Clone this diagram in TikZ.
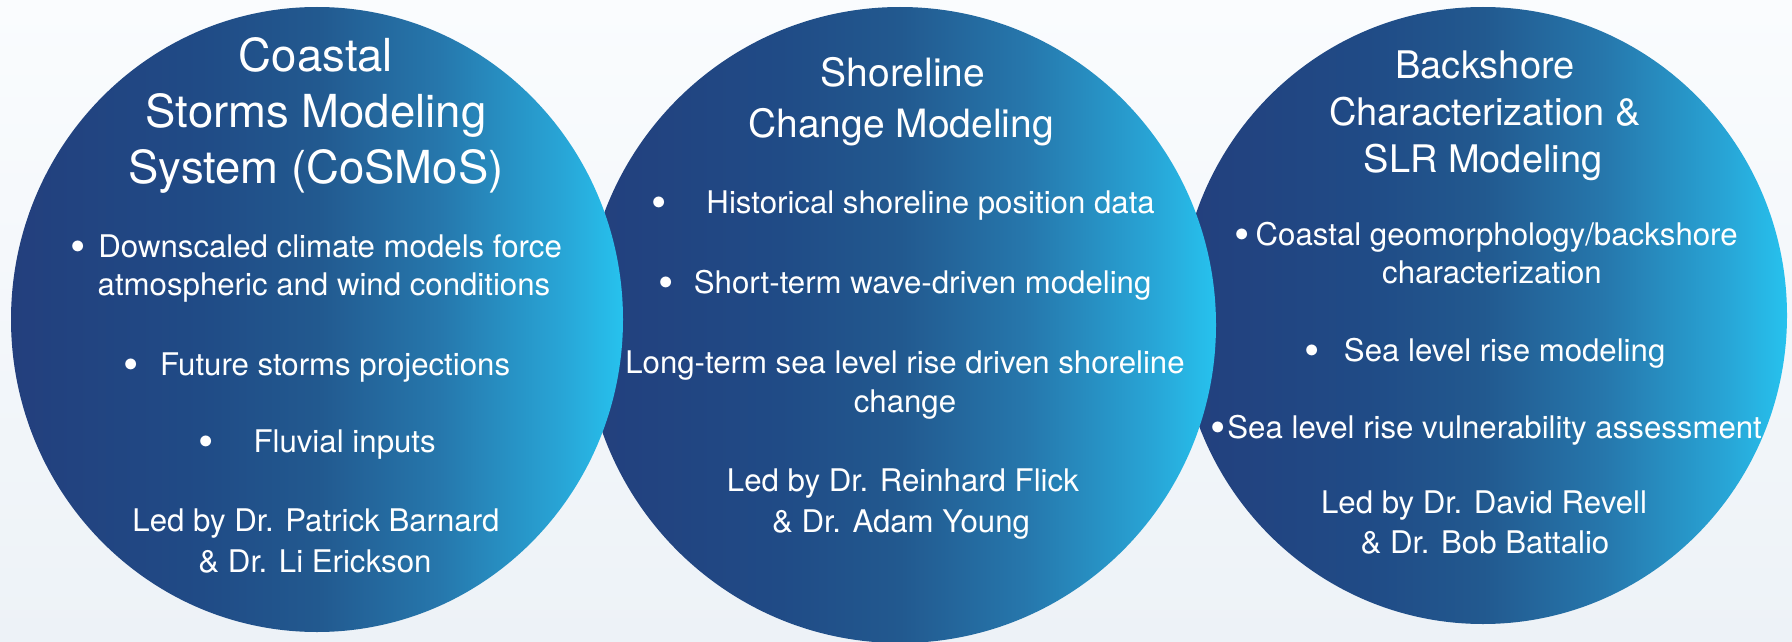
\documentclass[tikz,border=0pt]{standalone}
\usepackage{fontspec}
\setmainfont{TeX Gyre Heros}
\definecolor{bgtop}{HTML}{FAFCFE}
\definecolor{bgbot}{HTML}{EDF2F7}
\definecolor{g0}{HTML}{233F7D}
\definecolor{g1}{HTML}{204B86}
\definecolor{g2}{HTML}{22598F}
\definecolor{g3}{HTML}{2677AC}
\definecolor{g4}{HTML}{28A5D6}
\definecolor{g5}{HTML}{27C2EE}
\pgfdeclarehorizontalshading{circgrad}{100bp}{color(0bp)=(g0); color(25bp)=(g0); color(40.5bp)=(g1); color(50bp)=(g2); color(60bp)=(g3); color(70bp)=(g4); color(75bp)=(g5); color(100bp)=(g5)}
\newcommand{\bul}{\raisebox{-0.13em}{\scalebox{1.4}{•}}}
\begin{document}
\begin{tikzpicture}[x=1pt,y=-1pt,
  ttlL/.style={text=white, font=\fontsize{45.5}{55}\selectfont, anchor=base, inner sep=0pt},
  ttlM/.style={text=white, font=\fontsize{39}{47}\selectfont, anchor=base, inner sep=0pt},
  ttlR/.style={text=white, font=\fontsize{38}{46}\selectfont, anchor=base, inner sep=0pt},
  body/.style={text=white, font=\fontsize{31.2}{38}\selectfont, anchor=base, inner sep=0pt}]
\shade[top color=bgtop, bottom color=bgbot] (0,0) rectangle (1792,642);
\useasboundingbox (0,0) rectangle (1792,642);
% circles (drawn right to left so the left one lies on top)
\shade[shading=circgrad] (1483,315.5) ellipse [x radius=304pt, y radius=308.5pt];
\shade[shading=circgrad] (900,325) ellipse [x radius=316pt, y radius=318pt];
\shade[shading=circgrad] (317,319.5) ellipse [x radius=306pt, y radius=312.5pt];
% left circle
\node[ttlL] (lt1) at (316,71) {Coastal};
\node[ttlL] (lt2) at (316,127) {Storms Modeling};
\node[ttlL] (lt3) at (316,183) {System (CoSMoS)};
\node[body] (lb1) at (316,257) {\bul\hspace{13pt}Downscaled climate models force};
\node[body] (lb2) at (324,295) {atmospheric and wind conditions};
\node[body] (lb3) at (317,375) {\bul\hspace{21pt}Future storms projections};
\node[body] (lb4) at (317,452) {\bul\hspace{40pt}Fluvial inputs};
\node[body] (ll1) at (316,531) {Led by Dr. Patrick Barnard};
\node[body] (ll2) at (315,572) {\& Dr. Li Erickson};
% middle circle
\node[ttlM] (mt1) at (903,87) {Shoreline};
\node[ttlM] (mt2) at (901,137) {Change Modeling};
\node[body] (mb1) at (903,213) {\bul\hspace{40pt}Historical shoreline position data};
\node[body] (mb2) at (905,293) {\bul\hspace{20pt}Short-term wave-driven modeling};
\node[body] (mb3) at (905,373) {Long-term sea level rise driven shoreline};
\node[body] (mb4) at (905,412) {change};
\node[body] (ml1) at (903,491) {Led by Dr. Reinhard Flick};
\node[body] (ml2) at (901,532) {\& Dr. Adam Young};
% right circle
\node[ttlR] (rt1) at (1485,78) {Backshore};
\node[ttlR] (rt2) at (1485,125) {Characterization \&};
\node[ttlR] (rt3) at (1483,172) {SLR Modeling};
\node[body] (rb1) at (1486,245) {\bul\hspace{6pt}Coastal geomorphology/backshore};
\node[body] (rb2) at (1492,283) {characterization};
\node[body] (rb3) at (1485,361) {\bul\hspace{24pt}Sea level rise modeling};
\node[body] (rb4) at (1486,438) {\bul\hspace{2pt}Sea level rise vulnerability assessment};
\node[body] (rl1) at (1484,513) {Led by Dr. David Revell};
\node[body] (rl2) at (1485,553) {\& Dr. Bob Battalio};
\end{tikzpicture}
\end{document}
